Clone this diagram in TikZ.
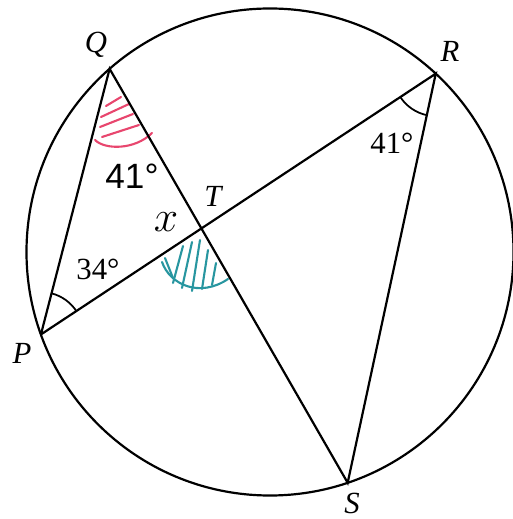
\documentclass[tikz,border=0pt]{standalone}
\usepackage{fontspec}
\setmainfont{Liberation Serif}
\newfontfamily\handfont{Liberation Sans}
\usetikzlibrary{calc,angles}
\definecolor{hatchred}{RGB}{232,70,110}
\definecolor{hatchteal}{RGB}{40,150,160}
\tikzset{
  geo/.style={line width=1.25pt, black},
  ptlabel/.style={font=\fontsize{17.5}{20}\selectfont\itshape, inner sep=0pt},
  anglabel/.style={font=\fontsize{17.5}{20}\selectfont, inner sep=0pt},
  angmark/.style={draw, line width=1pt, angle radius=0.85cm},
  redhatch/.style={hatchred, line width=1.2pt, line cap=round},
  tealhatch/.style={hatchteal, line width=1.2pt, line cap=round},
}
\begin{document}
\begin{tikzpicture}[x=0.02cm,y=0.02cm]
\useasboundingbox (0,0) rectangle (512,-519);
\coordinate (O) at (270,-252);
\coordinate (Q) at ($(O)+(131.2:243.5)$);
\coordinate (R) at ($(O)+(47.1:243.5)$);
\coordinate (P) at ($(O)+(199.8:243.5)$);
\coordinate (S) at ($(O)+(288.6:243.5)$);
\coordinate (T) at (intersection of P--R and Q--S);

% red hatching at Q
\draw[redhatch] (95,-140) .. controls (105,-150) and (135,-150) .. (152,-133);
\draw[redhatch] (106,-106) -- (121,-97);
\draw[redhatch] (101,-117) -- (129,-104);
\draw[redhatch] (100,-127) -- (133,-114);
\draw[redhatch] (102,-137) -- (139,-125);

% teal hatching at T
\draw[tealhatch] (162,-262) .. controls (170,-285) and (200,-298) .. (228,-279);
\draw[tealhatch] (165,-258) -- (173,-278);
\draw[tealhatch] (183,-246) -- (173,-283);
\draw[tealhatch] (192,-242) -- (182,-288);
\draw[tealhatch] (200,-240) -- (192,-291);
\draw[tealhatch] (208,-250) -- (202,-289);
\draw[tealhatch] (216,-263) -- (212,-285);

% circle and chords
\draw[geo] (O) circle[radius=243.5];
\draw[geo] (P) -- (Q) -- (S) -- (R) -- (P);

% angle marks
\pic[angmark] {angle = R--P--Q};
\pic[angmark] {angle = P--R--S};

% point labels
\node[ptlabel] (lQ) at (96,-45) {Q};
\node[ptlabel] (lR) at (450,-51) {R};
\node[ptlabel] (lP) at (22,-353) {P};
\node[ptlabel] (lS) at (352,-503) {S};
\node[ptlabel] (lT) at (213,-196) {T};

% angle labels
\node[anglabel] (a34) at (98,-269) {34°};
\node[anglabel] (a41) at (392,-143) {41°};

% handwritten labels
\node[inner sep=0pt, font=\handfont\fontsize{20}{22}\selectfont] (h41) at (132,-176) {41°};
\node[inner sep=0pt, font=\fontsize{24}{26}\selectfont] (hx) at (166,-222) {$x$};
\end{tikzpicture}
\end{document}
